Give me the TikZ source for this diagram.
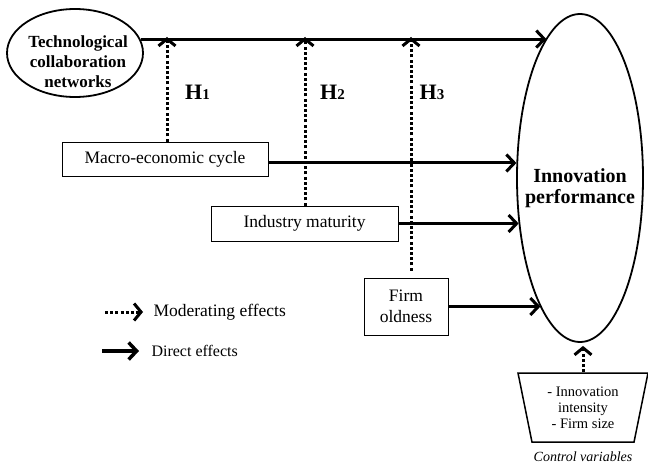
\documentclass[tikz,border=0pt]{standalone}
\usepackage{fontspec}
\setmainfont{Liberation Serif}
\usetikzlibrary{shapes,arrows.meta,positioning,calc,decorations.markings}

\newcommand{\hyplabel}[1]{\textbf{H\fontsize{15}{15}\selectfont #1}}

\begin{document}
\begin{tikzpicture}[
    x=1pt, y=-1pt,
    box/.style={rectangle, draw, line width=0.9pt, inner sep=0pt, align=center, font=\fontsize{17.5}{21}\selectfont},
    construct/.style={ellipse, draw, line width=1.8pt, inner sep=0pt, align=center},
    direct/.style={-{Straight Barb[length=8pt,width=17pt]}, line width=3pt},
    moderate/.style={line width=3pt, dash pattern=on 3pt off 2.2pt, shorten >=2pt,
        postaction={decorate, decoration={markings, mark=at position 1 with
            {\pgfsetdash{}{0pt}\arrow[line width=3pt]{Straight Barb[length=7pt,width=17pt]}}}}},
    hyp/.style={font=\fontsize{22}{22}\selectfont},
    legendtext/.style={anchor=west, font=\fontsize{17.5}{21}\selectfont}
]
\useasboundingbox (0,0) rectangle (648,468);

% constructs
\node[construct, minimum width=136pt, minimum height=88pt] (tcn) at (75,53) {};
\node[align=center, font=\fontsize{17}{20}\selectfont\bfseries] (tcntext) at (78,62) {Technological\\collaboration\\networks};
\node[construct, minimum width=126pt, minimum height=328pt,
      label={[align=center, font=\fontsize{20}{21}\selectfont\bfseries, yshift=-10pt]center:Innovation\\performance}] (ip) at (580,178) {};

% moderators
\node[box, minimum width=206pt, minimum height=34pt] (macro) at (165,159) {Macro-economic cycle};
\node[box, minimum width=187pt, minimum height=35pt] (industry) at (304.5,223.5) {Industry maturity};
\node[box, minimum width=84pt, minimum height=57pt] (firm) at (406,306.5) {Firm\\oldness};

% controls
\node[trapezium, draw, line width=1.5pt, shape border rotate=180, trapezium left angle=71.5, trapezium right angle=71.5,
      trapezium stretches body, minimum width=130pt, minimum height=69pt, inner sep=0pt, align=center,
      font=\fontsize{14.5}{16}\selectfont] (cv) at (583,407.5) {- Innovation\\intensity\\- Firm size};
\node[font=\fontsize{14}{16}\selectfont\itshape] (cvlab) at (583,457) {Control variables};

% direct effects
\draw[direct] (tcn.12) -- ([xshift=-5pt]tcn.12 -| ip.101) ;
\draw[direct] ([yshift=-4pt]macro.east) -- ([yshift=-4pt]macro.east -| ip.166);
\draw[direct] (industry.east) -- (industry.east -| ip.217);
\draw[direct] (firm.east) -- (firm.east -| ip.253);

% moderating effects
\coordinate (m1) at (167,37);
\coordinate (m2) at (305,37);
\coordinate (m3) at (411,37);
\draw[moderate] (macro.north -| m1) -- (m1);
\draw[moderate] (industry.north -| m2) -- (m2);
\draw[moderate] ([yshift=7pt]firm.north -| m3) -- (m3);
\draw[moderate] (cv.north) -- ([yshift=-3pt]cv.north |- ip.south);

\node[hyp] (h1) at (197.5,92) {\hyplabel{1}};
\node[hyp] (h2) at (332.5,92) {\hyplabel{2}};
\node[hyp] (h3) at (432,92) {\hyplabel{3}};

% legend
\coordinate (lm1) at (105,312);
\coordinate (lm2) at (143,312);
\draw[moderate] (lm1) -- (lm2);
\node[legendtext] (lmtext) at (150,312) {Moderating effects};
\coordinate (ld1) at (102,351);
\coordinate (ld2) at (139,351);
\draw[direct, line width=3.5pt] (ld1) -- (ld2);
\node[legendtext, font=\fontsize{16}{19}\selectfont] (ldtext) at (148,351) {Direct effects};

\end{tikzpicture}
\end{document}
